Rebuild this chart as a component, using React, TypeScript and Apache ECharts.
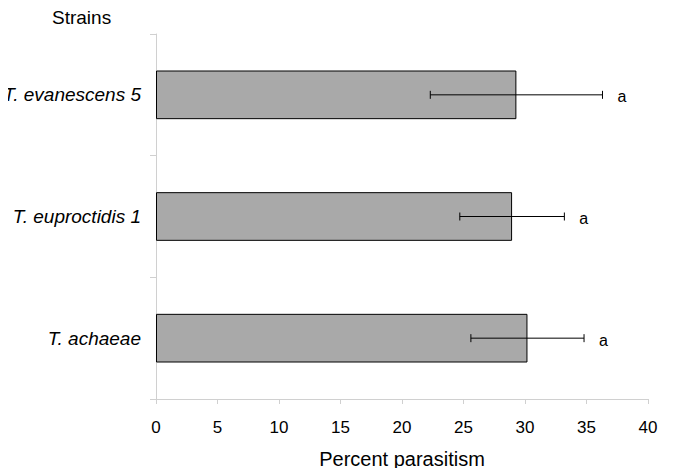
import React, { useEffect, useRef } from "react";
import * as echarts from "echarts";

const strains = ["T. achaeae", "T. euproctidis 1", "T. evanescens 5"];
const percentParasitism = [30.2, 28.95, 29.3];
const errorValues = [4.6, 4.25, 7.0];
const letters = ["a", "a", "a"];
const xTicks = { min: 0, max: 40, interval: 5 };

export default function App() {
  const ref = useRef<HTMLDivElement>(null);
  useEffect(() => {
    if (!ref.current) return;
    const chart = echarts.init(ref.current, null, { renderer: "svg" });
    const errData = strains.map((_, i) => [
      i,
      percentParasitism[i] - errorValues[i],
      percentParasitism[i] + errorValues[i],
      letters[i],
    ]);
    chart.setOption({
      animation: false,
      backgroundColor: "#ffffff",
      title: {
        text: "Strains",
        left: 47,
        top: 3,
        textStyle: { fontFamily: "Liberation Sans", fontSize: 19, fontWeight: "normal", color: "#000" },
      },
      grid: { left: 156, right: 37, top: 34, bottom: 77 },
      xAxis: {
        type: "value",
        min: xTicks.min,
        max: xTicks.max,
        interval: xTicks.interval,
        name: "Percent parasitism",
        nameLocation: "middle",
        nameGap: 50,
        nameTextStyle: { fontFamily: "Liberation Sans", fontSize: 20, color: "#000" },
        axisLine: { show: true, lineStyle: { color: "#d0d0d0", width: 1 } },
        axisTick: { show: true, length: 5, lineStyle: { color: "#d0d0d0" } },
        axisLabel: { margin: 20, fontFamily: "Liberation Sans", fontSize: 17, color: "#000" },
        splitLine: { show: false },
      },
      yAxis: {
        type: "category",
        data: strains,
        axisLine: { show: true, lineStyle: { color: "#d0d0d0", width: 1 } },
        axisTick: { show: true, length: 6, lineStyle: { color: "#d0d0d0" } },
        axisLabel: {
          margin: 15,
          fontFamily: "Liberation Sans",
          fontSize: 19,
          fontStyle: "italic",
          color: "#000",
        },
      },
      series: [
        {
          type: "bar",
          data: percentParasitism,
          barWidth: "40%",
          itemStyle: { color: "#a9a9a9", borderColor: "#000", borderWidth: 1 },
          silent: true,
        },
        {
          type: "custom",
          data: errData,
          silent: true,
          z: 10,
          renderItem: (params: any, api: any) => {
            const idx = api.value(0);
            const lo = api.coord([api.value(1), idx]);
            const hi = api.coord([api.value(2), idx]);
            const y = lo[1];
            const cap = 4;
            const st = { stroke: "#000", lineWidth: 1 };
            return {
              type: "group",
              children: [
                { type: "line", shape: { x1: lo[0], y1: y, x2: hi[0], y2: y }, style: st },
                { type: "line", shape: { x1: lo[0], y1: y - cap, x2: lo[0], y2: y + cap }, style: st },
                { type: "line", shape: { x1: hi[0], y1: y - cap, x2: hi[0], y2: y + cap }, style: st },
                {
                  type: "text",
                  x: hi[0] + 15,
                  y: y + 2,
                  style: {
                    text: String(letters[params.dataIndex]),
                    fontFamily: "Liberation Sans",
                    fontSize: 16,
                    fill: "#000",
                    verticalAlign: "middle",
                    align: "left",
                  },
                },
              ],
            };
          },
        },
      ],
    });
    return () => chart.dispose();
  }, []);
  return <div ref={ref} style={{ width: 685, height: 476, margin: -8 }} />;
}
